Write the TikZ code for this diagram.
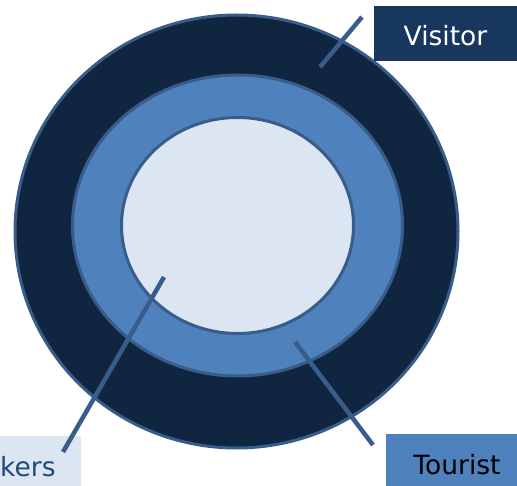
\documentclass[tikz,border=0pt]{standalone}
\usepackage{fontspec}
\setmainfont{DejaVu Sans}
\usetikzlibrary{shapes.geometric}
\definecolor{deepnavy}{HTML}{10253F}
\definecolor{ringline}{HTML}{385D8A}
\definecolor{midblue}{HTML}{4F81BD}
\definecolor{paleblue}{HTML}{DCE6F2}
\definecolor{tagnavy}{HTML}{17375E}
\definecolor{textblue}{HTML}{1F497D}
\begin{document}
\begin{tikzpicture}[x=1pt,y=-1pt,
    ring/.style ={ellipse, draw=ringline, line width=3pt, inner sep=0pt},
    tag/.style ={rectangle, inner sep=0pt, minimum width=143pt, minimum height=55pt,
                 text height=25pt, text depth=0pt, font=\fontsize{26.5}{31}\selectfont},
    pointer/.style ={draw=ringline, line width=4.5pt}]
   \clip (0,0) rectangle (517,486);
   \fill[white] (0,0) rectangle (517,486);
   \node[ring, fill=deepnavy, minimum width=443pt, minimum height=433pt] (visitor) at (236.5,231.5) {};
   \node[ring, fill=midblue, minimum width=330pt, minimum height=301pt] (tourist) at (237.5,225.5) {};
   \node[ring, fill=paleblue, minimum width=232pt, minimum height=216pt] (holiday) at (237.5,225.5) {};
   \coordinate (v1) at (362,17);  \coordinate (v2) at (320,67);
   \coordinate (t1) at (295,342); \coordinate (t2) at (373,445);
   \coordinate (h1) at (164,277); \coordinate (h2) at (63,452);
   \node[tag, fill=tagnavy, text=white] (visitortag) at (445.5,33.5) {Visitor};
   \node[tag, fill=midblue, text=black] (touristtag) at (457,461.5) {Tourist};
   \node[tag, fill=paleblue, text=textblue, minimum width=248pt] (holidaytag) at (-43,463.5) {Holidaymakers};
   \draw[pointer] (v1) -- (v2);
   \draw[pointer] (t1) -- (t2);
   \draw[pointer] (h1) -- (h2);
\end{tikzpicture}
\end{document}
